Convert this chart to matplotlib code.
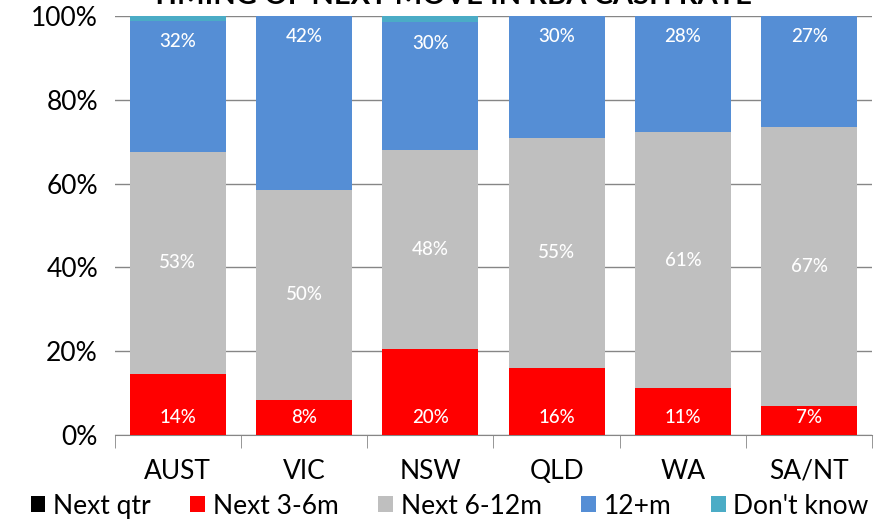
import numpy as np
import matplotlib
matplotlib.use('Agg')
import matplotlib.pyplot as plt

# Data (percent of respondents)
regions = ["AUST", "VIC", "NSW", "QLD", "WA", "SA/NT"]
next_qtr = [0, 0, 0, 0, 0, 0]
next_3_6m = [14.5, 8.4, 20.4, 16.0, 11.2, 6.8]
next_6_12m = [53.1, 50.0, 47.7, 54.9, 61.1, 66.8]
plus_12m = [31.2, 41.6, 30.4, 29.1, 27.7, 26.4]
dont_know = [1.2, 0.0, 1.5, 0.0, 0.0, 0.0]

lbl_3_6m = ["14%", "8%", "20%", "16%", "11%", "7%"]
lbl_6_12m = ["53%", "50%", "48%", "55%", "61%", "67%"]
lbl_12m = ["32%", "42%", "30%", "30%", "28%", "27%"]

series = [
    ("Next qtr", next_qtr, "#000000"),
    ("Next 3-6m", next_3_6m, "#FF0000"),
    ("Next 6-12m", next_6_12m, "#BFBFBF"),
    ("12+m", plus_12m, "#558ED5"),
    ("Don't know", dont_know, "#4BACC6"),
]

plt.rcParams['font.family'] = ['Lato', 'DejaVu Sans']

fig = plt.figure(figsize=(8.82, 5.24), dpi=100)
ax = fig.add_axes([0.130, 0.170, 0.859, 0.7995])

x = np.arange(len(regions))
width = 0.76
bottom = np.zeros(len(regions))
for name, vals, col in series:
    vals = np.array(vals, dtype=float)
    ax.bar(x, vals, width, bottom=bottom, color=col, label=name, zorder=3)
    bottom = bottom + vals

# Data labels
lab_kw = dict(color="white", fontsize=13.5, ha="center", va="center",
              fontweight="medium", zorder=4)
for i in range(len(regions)):
    ax.text(x[i], 4.2, lbl_3_6m[i], **lab_kw)
    mid = next_3_6m[i] + next_6_12m[i] / 2
    ax.text(x[i], mid, lbl_6_12m[i], **lab_kw)
    top = next_3_6m[i] + next_6_12m[i] + plus_12m[i]
    ax.text(x[i], top - 5.0, lbl_12m[i], **lab_kw)

ax.set_xlim(-0.5, len(regions) - 0.5)
ax.set_ylim(0, 100)
ax.set_yticks(np.arange(0, 101, 20))
ax.set_yticklabels([f"{v}%" for v in range(0, 101, 20)], fontsize=19)
ax.set_xticks(x)
ax.set_xticklabels(regions, fontsize=19)
ax.set_xticks(np.arange(-0.5, len(regions)), minor=True)
ax.tick_params(axis="x", which="major", length=0, pad=17)
ax.tick_params(axis="x", which="minor", length=9, color="#868686")
ax.tick_params(axis="y", length=0, pad=12)

ax.grid(axis="y", color="#868686", linewidth=1, zorder=0)
for s in ["top", "right", "left"]:
    ax.spines[s].set_visible(False)
ax.spines["bottom"].set_color("#868686")

# Title (cut off at the top in the original)
fig.text(0.512, 1.008, "TIMING OF NEXT MOVE IN RBA CASH RATE", ha="center",
         va="center", fontsize=21, fontweight="bold")

fig.legend(loc="lower center", ncol=5, frameon=False, fontsize=19,
           handlelength=0.55, handleheight=0.55, handletextpad=0.3,
           columnspacing=1.5, bbox_to_anchor=(0.51, -0.035))

fig.savefig("out.png", dpi=100)
